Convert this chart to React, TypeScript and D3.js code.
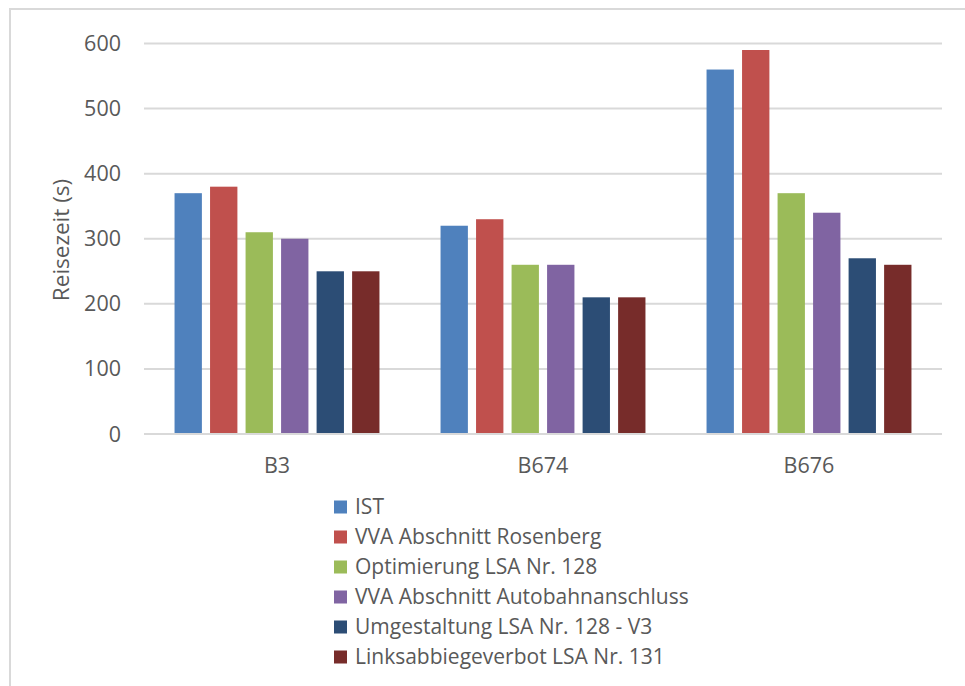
import React from "react";
import * as d3 from "d3";

const categories = ["B3", "B674", "B676"];
const seriesNames = [
  "IST",
  "VVA Abschnitt Rosenberg",
  "Optimierung LSA Nr. 128",
  "VVA Abschnitt Autobahnanschluss",
  "Umgestaltung LSA Nr. 128 - V3",
  "Linksabbiegeverbot LSA Nr. 131",
];
const istValues = [370, 320, 560];
const rosenbergValues = [380, 330, 590];
const optimierungValues = [310, 260, 370];
const autobahnValues = [300, 260, 340];
const umgestaltungValues = [250, 210, 270];
const linksabbiegeValues = [250, 210, 260];
const yTicks = [0, 100, 200, 300, 400, 500, 600];

const seriesValues = [
  istValues,
  rosenbergValues,
  optimierungValues,
  autobahnValues,
  umgestaltungValues,
  linksabbiegeValues,
];
const colors = ["#4F81BD", "#C0504D", "#9BBB59", "#8064A2", "#2C4D75", "#772C2A"];

const W = 965;
const H = 686;
const FONT = "'Open Sans', sans-serif";
const TEXT = "#595959";

export default function App() {
  const plotLeft = 144;
  const plotRight = 942;
  const y = d3.scaleLinear().domain([0, 600]).range([434, 43.5]);
  const x0 = d3.scaleBand<string>().domain(categories).range([plotLeft, plotRight]).padding(0);
  const x1 = d3
    .scaleBand<string>()
    .domain(seriesNames)
    .range([0, x0.bandwidth()])
    .paddingInner(0.23)
    .paddingOuter(0.86);

  return (
    <svg
      width={W}
      height={H}
      style={{ position: "absolute", left: 0, top: 0, background: "#fff" }}
      fontFamily={FONT}
    >
      <rect x={0} y={0} width={W} height={H} fill="#fff" />
      <rect x={10} y={9} width={W} height={H} fill="none" stroke="#d9d9d9" strokeWidth={2} />

      {yTicks.map((t) => (
        <g key={t}>
          {t > 0 && (
            <line x1={plotLeft} x2={plotRight} y1={y(t)} y2={y(t)} stroke="#d9d9d9" strokeWidth={2} />
          )}
          <text x={121} y={y(t)} dy="0.35em" textAnchor="end" fontSize={21.5} fill={TEXT}>
            {t}
          </text>
        </g>
      ))}

      {categories.map((c, ci) => (
        <g key={c} transform={`translate(${x0(c)},0)`}>
          {seriesNames.map((s, si) => {
            const v = seriesValues[si][ci];
            return (
              <rect
                key={s}
                x={x1(s)}
                y={y(v)}
                width={x1.bandwidth()}
                height={y(0) - y(v)}
                fill={colors[si]}
              />
            );
          })}
          <text
            x={x0.bandwidth() / 2}
            y={473}
            textAnchor="middle"
            fontSize={21.5}
            fill={TEXT}
          >
            {c}
          </text>
        </g>
      ))}

      <line x1={plotLeft} x2={plotRight} y1={y(0)} y2={y(0)} stroke="#d9d9d9" strokeWidth={2} />

      <text
        transform={`translate(69,240) rotate(-90)`}
        textAnchor="middle"
        fontSize={22.5}
        fill={TEXT}
      >
        Reisezeit (s)
      </text>

      {seriesNames.map((s, i) => {
        const cy = 507 + i * 30;
        return (
          <g key={s}>
            <rect x={334} y={cy - 6.5} width={13} height={13} fill={colors[i]} />
            <text x={355} y={cy} dy="0.35em" fontSize={21} fill={TEXT}>
              {s}
            </text>
          </g>
        );
      })}
    </svg>
  );
}
